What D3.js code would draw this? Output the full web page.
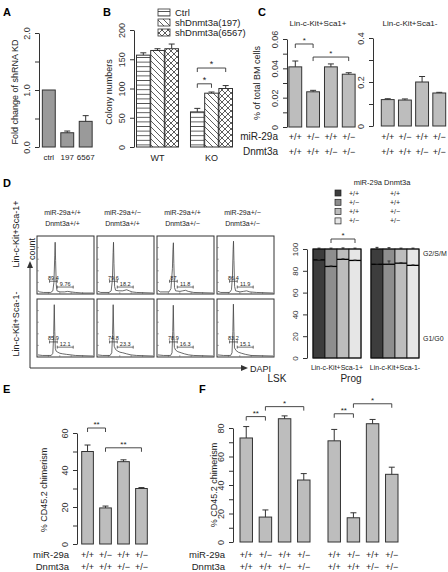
<!DOCTYPE html>
<html><head><meta charset="utf-8">
<script src="https://cdn.jsdelivr.net/npm/d3@7"></script>
<style>body{margin:0;background:#fff}svg{display:block}</style>
</head><body><svg id="c" width="448" height="572"></svg>
<script>
// ---------------- DATA ----------------
const A_categories = ["ctrl", "197", "6567"];
const A_values = [1.0, 0.25, 0.45];
const A_errors = [0, 0.03, 0.1];
const A_ticks = [0, 0.5, 1, 1.5, 2];
const A_tickLabels = ["0.0", "", "1.0", "", "2.0"];

const B_groups = ["WT", "KO"];
const B_series = ["Ctrl", "shDnmt3a(197)", "shDnmt3a(6567)"];
const B_WT = [157, 165, 168];
const B_WTerr = [4, 3, 8];
const B_KO = [60, 92, 100];
const B_KOerr = [6, 2, 5];
const B_ticks = [0, 50, 100, 150, 200];
const B_brackets = [[0, 2, 135, "*"], [0, 1, 108, "*"]];

const genoMiR = ["+/+", "+/\u2212", "+/+", "+/\u2212"];
const genoDnmt = ["+/+", "+/+", "+/\u2212", "+/\u2212"];

const C_lsk = [0.041, 0.024, 0.041, 0.036];
const C_lskErr = [0.004, 0.001, 0.002, 0.001];
const C_lskTicks = [0, 0.01, 0.02, 0.03, 0.04, 0.05, 0.06];
const C_lskTickLabels = ["0", "", "0.02", "", "0.04", "", "0.06"];
const C_lskBrackets = [[0, 1, 0.0566, "*"], [1, 3, 0.0477, "*"]];
const C_prog = [0.12, 0.118, 0.2, 0.15];
const C_progErr = [0.004, 0.005, 0.025, 0.003];
const C_progTicks = [0, 0.1, 0.2, 0.3, 0.4];
const C_progTickLabels = ["0", "", "0.2", "", "0.4"];

// D: flow histograms (DAPI 0-1000, count 0-100)
const D_rows = ["Lin-c-Kit+Sca-1+", "Lin-c-Kit+Sca-1-"];
const D_hist = [
  [
    [[0,4],[30,2],[100,1],[230,1],[270,4],[290,20],[305,70],[312,94],[320,60],[332,15],[345,4],[400,2],[480,2],[540,3],[600,2],[680,1],[800,0],[1000,0]],
    [[0,3],[50,1],[200,1],[240,4],[262,25],[275,75],[282,94],[290,55],[302,12],[320,5],[380,4],[450,4],[520,6],[570,4],[620,2],[700,1],[1000,0]],
    [[0,5],[40,2],[200,2],[235,8],[255,35],[262,45],[272,80],[280,93],[288,55],[300,10],[320,4],[400,3],[450,4],[500,5],[550,3],[650,1],[1000,0]],
    [[0,3],[50,1],[210,1],[245,6],[262,30],[275,80],[282,96],[290,60],[302,12],[320,4],[400,2],[460,3],[520,4],[580,2],[700,1],[1000,0]]
  ],
  [
    [[0,2],[80,1],[240,1],[270,5],[285,40],[296,95],[305,45],[315,14],[330,9],[360,7],[400,5],[450,4],[520,3],[600,2],[680,1],[1000,0]],
    [[0,2],[80,1],[220,1],[250,6],[265,40],[276,95],[285,50],[295,18],[320,12],[360,9],[400,7],[450,6],[520,4],[600,2],[700,1],[1000,0]],
    [[0,2],[100,1],[230,1],[255,6],[268,45],[278,94],[287,45],[298,16],[320,11],[360,8],[420,6],[480,4],[560,2],[650,1],[1000,0]],
    [[0,2],[100,1],[230,1],[255,6],[270,45],[280,96],[290,45],[300,15],[330,10],[370,7],[430,5],[500,3],[600,1],[1000,0]]
  ]
];
const D_gate1 = [210, 350];
const D_gate2 = [350, 640];
const D_g1Labels = [["89.4", "79.6", "87", "86.4"], ["85.9", "74.8", "78.9", "83.2"]];
const D_g2Labels = [["9.76", "18.2", "11.8", "11.9"], ["12.1", "23.3", "16.3", "15.1"]];

// D: cell-cycle stacked bars
const D_groups = ["Lin-c-Kit+Sca-1+", "Lin-c-Kit+Sca-1-"];
const D_lskG1 = [90, 84, 90.5, 89.5];
const D_lskG1err = [0.3, 0.5, 0.5, 0.3];
const D_lskTopErr = [0.8, 0.8, 1, 0.8];
const D_progG1 = [86, 86, 87, 85];
const D_progG1err = [0.5, 3, 0.5, 0.4];
const D_progTopErr = [1.5, 1.2, 0.8, 0.8];
const D_colors = ["#3d3d3d", "#8e8e8e", "#bdbdbd", "#e6e6e6"];
const D_ticks = [0, 20, 40, 60, 80, 100];

const E_values = [50, 19.5, 44.5, 30];
const E_errors = [3.5, 1, 1, 0.5];
const E_ticks = [0, 10, 20, 30, 40, 50, 60];
const E_tickLabels = ["0", "", "20", "", "40", "", "60"];
const E_brackets = [[0, 1, 62.7, "**"], [1, 3, 52, "**"]];

const F_groups = ["LSK", "Prog"];
const F_lsk = [73, 17.5, 86.5, 43.5];
const F_lskErr = [8, 5, 2, 4.5];
const F_prog = [71, 17, 83, 47.5];
const F_progErr = [8, 3.5, 3, 5];
const F_ticks = [0, 10, 20, 30, 40, 50, 60, 70, 80];
const F_tickLabels = ["0", "", "20", "", "40", "", "60", "", "80"];
const F_lskBrackets = [[0, 1, 88, "**"], [1, 3, 95, "*"]];
const F_progBrackets = [[0, 1, 90, "**"], [1, 3, 97, "*"]];

// ---------------- DRAWING ----------------
const FONT = '"Liberation Sans", Arial, sans-serif';
const INK = "#333";
const BAR = "#bdbdbd";
const svg = d3.select("#c").attr("font-family", FONT);

// patterns
const defs = svg.append("defs");
const pH = defs.append("pattern").attr("id", "pH").attr("patternUnits", "userSpaceOnUse").attr("width", 5).attr("height", 4.6);
pH.append("rect").attr("width", 5).attr("height", 4.6).attr("fill", "#fff");
pH.append("path").attr("d", "M0,2.3H5").attr("stroke", INK).attr("stroke-width", 0.8);
const pD = defs.append("pattern").attr("id", "pD").attr("patternUnits", "userSpaceOnUse").attr("width", 6).attr("height", 6);
pD.append("rect").attr("width", 6).attr("height", 6).attr("fill", "#fff");
pD.append("path").attr("d", "M0,0L6,6M-1,5L1,7M5,-1L7,1").attr("stroke", INK).attr("stroke-width", 0.8);
const pX = defs.append("pattern").attr("id", "pX").attr("patternUnits", "userSpaceOnUse").attr("width", 6).attr("height", 6);
pX.append("rect").attr("width", 6).attr("height", 6).attr("fill", "#fff");
pX.append("path").attr("d", "M0,0L6,6M-1,5L1,7M5,-1L7,1M6,0L0,6M-1,1L1,-1M5,7L7,5").attr("stroke", INK).attr("stroke-width", 0.8);
const B_fills = ["url(#pH)", "url(#pD)", "url(#pX)"];

function text(x, y, s, size, opts = {}) {
  const t = svg.append("text").attr("x", x).attr("y", y).text(s)
    .attr("font-size", size).attr("fill", opts.fill || "#222")
    .attr("text-anchor", opts.anchor || "start");
  if (opts.bold) t.attr("font-weight", "bold");
  if (opts.rot) t.attr("transform", `rotate(-90,${x},${y})`);
  return t;
}
function rAxis(x0, y, ticks, labels, size = 9) {
  const g = svg.append("g").attr("transform", `translate(${x0},0)`)
    .call(d3.axisLeft(y).tickValues(ticks).tickSizeInner(4).tickSizeOuter(0)
      .tickFormat((d, i) => labels ? labels[i] : d));
  g.attr("font-family", FONT).attr("font-size", size);
  g.select(".domain").attr("stroke", INK);
  g.selectAll(".tick line").attr("stroke", INK);
  g.selectAll(".tick text").attr("x", null).attr("dy", null)
    .attr("transform", "translate(-9,0) rotate(-90)").attr("text-anchor", "middle").attr("fill", "#333");
  return g;
}
function errBar(x, y1, y2, w = 3) {
  svg.append("path").attr("d", `M${x},${y1}V${y2}M${x - w},${y2}H${x + w}`)
    .attr("stroke", INK).attr("stroke-width", 1).attr("fill", "none");
}
function bracket(x1, x2, y, label, size = 9) {
  svg.append("path").attr("d", `M${x1},${y + 4}V${y}H${x2}V${y + 4}`)
    .attr("stroke", INK).attr("stroke-width", 0.9).attr("fill", "none");
  text((x1 + x2) / 2, y - 1, label, size, { anchor: "middle" });
}
function bars(x, y, vals, errs, fill) {
  vals.forEach((v, i) => {
    const fillC = typeof fill === "function" ? fill(i) : fill;
    svg.append("rect").attr("x", x(i)).attr("y", y(v)).attr("width", x.bandwidth())
      .attr("height", y(0) - y(v)).attr("fill", fillC).attr("stroke", INK).attr("stroke-width", 1);
    if (errs[i] > 0) errBar(x(i) + x.bandwidth() / 2, y(v), y(v + errs[i]));
  });
}
function genoRows(xs, y1, y2, size) {
  xs.forEach((xx, i) => {
    text(xx, y1, genoMiR[i], size, { anchor: "middle" });
    text(xx, y2, genoDnmt[i], size, { anchor: "middle" });
  });
}

// ---- Panel A ----
text(3, 16, "A", 11, { bold: true, fill: "#000" });
{
  const y = d3.scaleLinear([0, 2], [147, 33]);
  const x = d3.scaleBand(d3.range(3), [40.5, 94]).paddingInner(0.3).paddingOuter(0.1);
  rAxis(39, y, A_ticks, A_tickLabels);
  bars(x, y, A_values, A_errors, "#9a9a9a");
  A_categories.forEach((c, i) => text(x(i) + x.bandwidth() / 2, 160, c, 8, { anchor: "middle" }));
  text(18, 92, "Fold change of shRNA KD", 9, { anchor: "middle", rot: true });
}

// ---- Panel B ----
text(103, 16, "B", 11, { bold: true, fill: "#000" });
{
  const y = d3.scaleLinear([0, 200], [147, 30]);
  const gx = d3.scaleBand(B_groups, [136.5, 232.5]).paddingInner(0.222);
  const ix = d3.scaleBand(d3.range(3), [0, gx.bandwidth()]).paddingInner(0.04);
  rAxis(134, y, B_ticks, B_ticks.map(String));
  [B_WT, B_KO].forEach((vals, g) => {
    const errs = g === 0 ? B_WTerr : B_KOerr;
    const off = gx(B_groups[g]);
    const xs = i => off + ix(i);
    xs.bandwidth = () => ix.bandwidth();
    bars(xs, y, vals, errs, i => B_fills[i]);
    text(off + gx.bandwidth() / 2, 161, B_groups[g], 9, { anchor: "middle" });
  });
  const off = gx("KO");
  B_brackets.forEach(([a, b, lv, s]) =>
    bracket(off + ix(a) + ix.bandwidth() / 2, off + ix(b) + ix.bandwidth() / 2, y(lv), s));
  B_series.forEach((s, i) => {
    svg.append("rect").attr("x", 158).attr("y", 9 + i * 10).attr("width", 12).attr("height", 7)
      .attr("fill", B_fills[i]).attr("stroke", INK).attr("stroke-width", 0.8);
    text(175, 16 + i * 10, s, 9.5);
  });
  text(112, 92, "Colony numbers", 9, { anchor: "middle", rot: true });
}

// ---- Panel C ----
text(258, 16, "C", 11, { bold: true, fill: "#000" });
{
  const yL = d3.scaleLinear([0, 0.06], [127, 39]);
  const xL = d3.scaleBand(d3.range(4), [288, 356]).paddingInner(0.28).paddingOuter(0.05);
  rAxis(287, yL, C_lskTicks, C_lskTickLabels);
  bars(xL, yL, C_lsk, C_lskErr, BAR);
  C_lskBrackets.forEach(([a, b, lv, s]) =>
    bracket(xL(a) + xL.bandwidth() / 2, xL(b) + xL.bandwidth() / 2, yL(lv), s, 8));
  text(318, 26, "Lin-c-Kit+Sca1+", 8, { anchor: "middle" });

  const yR = d3.scaleLinear([0, 0.4], [126, 38]);
  const xR = d3.scaleBand(d3.range(4), [377, 450]).paddingInner(0.25).paddingOuter(0.25);
  rAxis(373, yR, C_progTicks, C_progTickLabels);
  bars(xR, yR, C_prog, C_progErr, BAR);
  text(410, 26, "Lin-c-Kit+Sca1-", 8, { anchor: "middle" });

  genoRows(d3.range(4).map(i => xL(i) + xL.bandwidth() / 2), 140, 155, 9);
  genoRows(d3.range(4).map(i => xR(i) + xR.bandwidth() / 2), 140, 155, 9);
  text(278, 140, "miR-29a", 10, { anchor: "end" });
  text(278, 155, "Dnmt3a", 10, { anchor: "end" });
  text(260, 83, "% of total BM cells", 9, { anchor: "middle", rot: true });
}

// ---- Panel D (histograms) ----
text(3, 187, "D", 11, { bold: true, fill: "#000" });
{
  const cx = d3.scaleBand(d3.range(4), [37, 274]).paddingInner(0.05);
  const rowsY = [[236, 294], [299, 357]];
  const gateFr = [[0.78, 0.88], [0.74, 0.83]];
  d3.range(4).forEach(c => {
    const cc = cx(c) + cx.bandwidth() / 2 - 3;
    text(cc, 215, "miR-29a" + genoMiR[c], 7, { anchor: "middle" });
    text(cc, 226, "Dnmt3a" + genoDnmt[c], 7, { anchor: "middle" });
  });
  rowsY.forEach(([t, b], r) => {
    d3.range(4).forEach(c => {
      const x0 = cx(c), w = cx.bandwidth();
      const xs = d3.scaleLinear([0, 1000], [x0 + 1, x0 + w - 1]);
      const ys = d3.scaleLinear([0, 100], [b - 1, t + 3]);
      svg.append("rect").attr("x", x0).attr("y", t).attr("width", w).attr("height", b - t)
        .attr("fill", "#fff").attr("stroke", INK).attr("stroke-width", 1);
      const tk = svg.append("g").attr("stroke", "#666").attr("stroke-width", 0.6);
      [0.2, 0.4, 0.6, 0.8].forEach(f => {
        tk.append("path").attr("d", `M${x0},${t + f * (b - t)}h1.8M${x0 + f * w},${b}v-1.8`);
      });
      svg.append("path").datum(D_hist[r][c])
        .attr("d", d3.line().x(d => xs(d[0])).y(d => ys(d[1])))
        .attr("fill", "none").attr("stroke", "#444").attr("stroke-width", 0.8);
      const gy1 = t + gateFr[r][0] * (b - t), gy2 = t + gateFr[r][1] * (b - t);
      [[D_gate1, gy1, D_g1Labels[r][c]], [D_gate2, gy2, D_g2Labels[r][c]]].forEach(([g, gy, lab]) => {
        const a = xs(g[0]), z = xs(g[1]);
        svg.append("path").attr("d", `M${a},${gy - 1.5}v3M${a},${gy}H${z}M${z},${gy - 1.5}v3`)
          .attr("stroke", "#333").attr("stroke-width", 0.7).attr("fill", "none");
        text((a + z) / 2, gy - 1.5, lab, 5.5, { anchor: "middle" });
      });
    });
  });
  svg.append("path").attr("d", "M30,368V267M30,368H243").attr("stroke", INK).attr("stroke-width", 1).attr("fill", "none");
  svg.append("path").attr("d", "M27,268L30,261L33,268Z").attr("fill", INK);
  svg.append("path").attr("d", "M241,365L248,368L241,371Z").attr("fill", INK);
  text(35, 249, "count", 9, { anchor: "middle", rot: true });
  text(250, 372, "DAPI", 9);
  text(19, 234, D_rows[0], 9, { anchor: "middle", rot: true });
  text(19, 324, D_rows[1], 9, { anchor: "middle", rot: true });
}

// ---- Panel D (stacked cell cycle) ----
{
  const y = d3.scaleLinear([0, 100], [358, 249]);
  const gx = d3.scaleBand(D_groups, [313, 419]).paddingInner(0.172);
  const ix = d3.scaleBand(d3.range(4), [0, gx.bandwidth()]);
  rAxis(307, y, D_ticks, D_ticks.map(String), 8);
  [[D_lskG1, D_lskG1err, D_lskTopErr], [D_progG1, D_progG1err, D_progTopErr]].forEach(([g1, e1, et], g) => {
    const off = gx(D_groups[g]);
    g1.forEach((v, i) => {
      const x0 = off + ix(i), w = ix.bandwidth(), cxm = x0 + w / 2;
      svg.append("rect").attr("x", x0).attr("y", y(100)).attr("width", w).attr("height", y(0) - y(100))
        .attr("fill", D_colors[i]).attr("stroke", "#111").attr("stroke-width", 0.8);
      svg.append("path").attr("d", `M${x0},${y(v)}H${x0 + w}`).attr("stroke", "#000").attr("stroke-width", 1.3);
      errBar(cxm, y(v), y(v + e1[i]), 1.5);
      errBar(cxm, y(100), y(100 + et[i]), 1.5);
    });
    svg.append("rect").attr("x", off).attr("y", y(100)).attr("width", gx.bandwidth()).attr("height", y(0) - y(100))
      .attr("fill", "none").attr("stroke", "#111").attr("stroke-width", 1);
    text(off + gx.bandwidth() / 2, 370, D_groups[g], 7, { anchor: "middle" });
  });
  const off = gx(D_groups[0]);
  bracket(off + ix(1) + ix.bandwidth() / 2, off + ix(3) + ix.bandwidth() / 2, 239, "*", 8);
  text(423, 256, "G2/S/M", 7);
  text(423, 341, "G1/G0", 7);
  text(382, 185, "miR-29a Dnmt3a", 7.5, { anchor: "middle" });
  D_colors.forEach((col, i) => {
    const yy = 190 + i * 9.3;
    svg.append("rect").attr("x", 335).attr("y", yy).attr("width", 6).attr("height", 6)
      .attr("fill", col).attr("stroke", "#222").attr("stroke-width", 0.7);
    text(354, yy + 5.5, genoMiR[i], 7, { anchor: "middle" });
    text(395, yy + 5.5, genoDnmt[i], 7, { anchor: "middle" });
  });
}

// ---- Panel E ----
text(3, 393, "E", 11, { bold: true, fill: "#000" });
{
  const y = d3.scaleLinear([0, 60], [544, 433]);
  const x = d3.scaleBand(d3.range(4), [79, 150]).paddingInner(0.35).paddingOuter(0.15);
  rAxis(77, y, E_ticks, E_tickLabels);
  bars(x, y, E_values, E_errors, BAR);
  E_brackets.forEach(([a, b, lv, s]) =>
    bracket(x(a) + x.bandwidth() / 2, x(b) + x.bandwidth() / 2, y(lv), s, 8));
  genoRows(d3.range(4).map(i => x(i) + x.bandwidth() / 2), 558, 570, 9);
  text(69, 558, "miR-29a", 9.5, { anchor: "end" });
  text(69, 570, "Dnmt3a", 9.5, { anchor: "end" });
  text(47, 490, "% CD45.2 chimerism", 9, { anchor: "middle", rot: true });
}

// ---- Panel F ----
text(199, 393, "F", 11, { bold: true, fill: "#000" });
{
  const y = d3.scaleLinear([0, 80], [542, 428]);
  const gx = d3.scaleBand(F_groups, [240, 398]).paddingInner(0.2045);
  const ix = d3.scaleBand(d3.range(4), [0, gx.bandwidth()]).paddingInner(0.35);
  rAxis(233, y, F_ticks, F_tickLabels);
  [[F_lsk, F_lskErr, F_lskBrackets], [F_prog, F_progErr, F_progBrackets]].forEach(([vals, errs, brs], g) => {
    const off = gx(F_groups[g]);
    const xs = i => off + ix(i);
    xs.bandwidth = () => ix.bandwidth();
    bars(xs, y, vals, errs, BAR);
    brs.forEach(([a, b, lv, s]) =>
      bracket(xs(a) + ix.bandwidth() / 2, xs(b) + ix.bandwidth() / 2, y(lv), s, 8));
    genoRows(d3.range(4).map(i => xs(i) + ix.bandwidth() / 2), 558, 570, 9);
    text(off + gx.bandwidth() / 2 + (g === 0 ? 2 : -12), 382, F_groups[g], 10, { anchor: "middle" });
  });
  text(225, 558, "miR-29a", 9.5, { anchor: "end" });
  text(225, 570, "Dnmt3a", 9.5, { anchor: "end" });
  text(217, 485, "% CD45.2 chimerism", 9, { anchor: "middle", rot: true });
}
</script></body></html>
